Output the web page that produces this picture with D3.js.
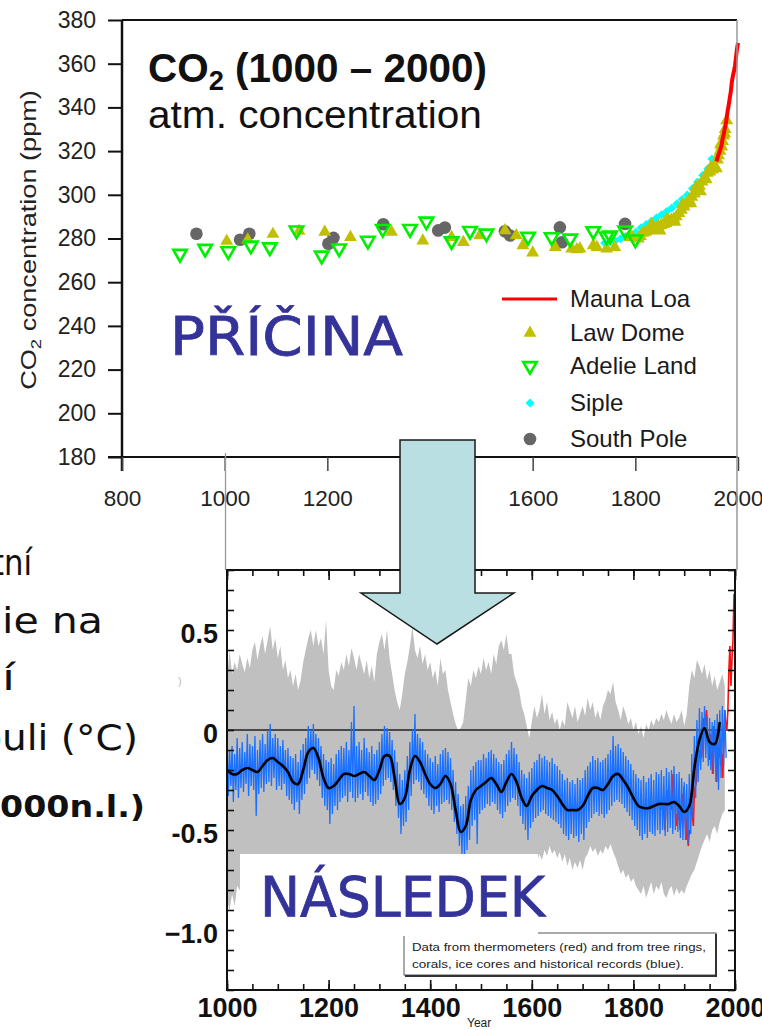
<!DOCTYPE html>
<html><head><meta charset="utf-8">
<script src="https://cdn.jsdelivr.net/npm/d3@7"></script>
<style>html,body{margin:0;padding:0;background:#fff;} svg{display:block;}</style>
</head><body>
<svg id="chart" width="762" height="1030"></svg>
<script>
// ---------------- CO2 panel (1000 - 2000) ----------------
const co2TickValues = [180, 200, 220, 240, 260, 280, 300, 320, 340, 360, 380];
const co2YearTicks = [800, 1000, 1200, 1400, 1600, 1800, 2000];

const maunaLoaYears = [1958, 1960, 1962, 1964, 1966, 1968, 1970, 1972, 1974, 1976, 1978, 1980, 1982, 1984, 1986, 1988, 1990, 1992, 1994, 1996, 1998, 2000];
const maunaLoaPpm   = [315.3, 316.9, 318.4, 319.6, 321.1, 322.9, 325.7, 327.5, 330.2, 332.1, 335.4, 338.7, 341.1, 344.4, 347.2, 351.6, 354.4, 356.4, 358.9, 362.6, 366.7, 369.5];

const lawDomeYears = [1004, 1045, 1094, 1145, 1195, 1245, 1325, 1386, 1442, 1465, 1497, 1546, 1568, 1581, 1600, 1644, 1676, 1686, 1692, 1718, 1725, 1744, 1760, 1790, 1795, 1806,
  1810, 1815, 1820, 1825, 1830, 1832, 1835, 1840, 1845, 1848, 1850, 1855, 1860, 1862, 1865, 1870, 1875, 1877, 1880, 1885, 1890, 1892, 1895, 1900, 1905, 1908, 1910, 1915, 1918,
  1920, 1925, 1927, 1930, 1935, 1938, 1940, 1945, 1947, 1950, 1955, 1958, 1960, 1962, 1965, 1966, 1968, 1970, 1972, 1974, 1975, 1978];
const lawDomePpm = [278.8, 279.4, 282.0, 283.4, 283.0, 280.6, 283.0, 279.0, 280.6, 278.3, 281.4, 283.7, 281.4, 276.8, 273.5, 276.0, 275.3, 275.0, 275.3, 276.8, 276.0, 275.3, 276.0, 280.6, 280.5, 279.9,
  281.0, 282.5, 283.0, 283.5, 284.0, 286.5, 284.0, 285.0, 285.5, 283.5, 286.0, 286.5, 287.0, 289.0, 288.0, 288.5, 289.0, 287.5, 290.0, 291.5, 293.0, 295.5, 294.5, 296.0, 297.5, 296.0, 299.0, 300.5, 303.5,
  302.0, 304.0, 301.5, 306.0, 308.0, 307.0, 310.0, 310.5, 312.5, 311.5, 313.0, 312.0, 316.0, 318.0, 320.0, 323.0, 322.0, 324.5, 327.0, 328.0, 330.0, 334.0];

const adelieYears = [913, 962, 1007, 1051, 1088, 1140, 1189, 1223, 1279, 1308, 1361, 1393, 1442, 1478, 1510, 1591, 1637, 1673, 1718, 1744, 1751, 1780, 1800];
const adeliePpm   = [273.0, 275.3, 274.2, 276.8, 276.0, 283.7, 272.2, 275.5, 279.0, 284.4, 284.4, 287.8, 278.8, 283.5, 282.3, 280.8, 280.6, 280.0, 283.4, 281.0, 281.4, 283.7, 279.6];

const sipleYears = [1744, 1755, 1765, 1775, 1785, 1795, 1805, 1815, 1825, 1835, 1845, 1855, 1865, 1875, 1885, 1895, 1905, 1915, 1925, 1935, 1945, 1953];
const siplePpm   = [277.0, 277.5, 278.0, 279.0, 280.0, 281.0, 282.0, 284.0, 285.5, 287.0, 288.5, 290.0, 291.5, 293.0, 295.0, 297.0, 299.0, 302.0, 305.0, 308.0, 311.0, 315.5];

const southPoleYears = [945, 1030, 1048, 1202, 1212, 1309, 1416, 1429, 1546, 1556, 1653, 1657, 1780];
const southPolePpm   = [282.2, 279.4, 282.2, 277.6, 280.3, 286.5, 283.7, 285.0, 283.3, 281.4, 285.1, 278.3, 286.7];

const legendLabels = ["Mauna Loa", "Law Dome", "Adelie Land", "Siple", "South Pole"];

// ---------------- Temperature panel (1000 - 2000) ----------------
const tempTickValues = [-1.0, -0.5, 0, 0.5];
const tempTickLabels = ["\u22121.0", "-0.5", "0", "0.5"];
const tempYearTicks = [1000, 1200, 1400, 1600, 1800, 2000];

// 5-year steps 1000..1980: uncertainty band edges and the range of the reconstruction
const bandUpper = [
  0.25, 0.40, 0.28, 0.34, 0.30, 0.38, 0.33, 0.29, 0.36, 0.31,
  0.40, 0.44, 0.35, 0.42, 0.47, 0.38, 0.45, 0.52, 0.40, 0.46,
  0.36, 0.42, 0.30, 0.35, 0.26, 0.30, 0.22, 0.28, 0.20, 0.25,
  0.34, 0.40, 0.46, 0.50, 0.42, 0.50, 0.42, 0.46, 0.38, 0.55,
  0.30, 0.22, 0.20, 0.30, 0.27, 0.34, 0.30, 0.38, 0.32, 0.41,
  0.36, 0.30, 0.38, 0.33, 0.28, 0.35, 0.26, 0.32, 0.24, 0.38,
  0.44, 0.48, 0.40, 0.50, 0.36, 0.28, 0.20, 0.14, 0.10, 0.18,
  0.28, 0.34, 0.42, 0.52, 0.40, 0.36, 0.42, 0.33, 0.38, 0.30,
  0.34, 0.26, 0.30, 0.22, 0.36, 0.28, 0.30, 0.20, 0.14, 0.08,
  0.03, 0.00, 0.01, 0.04, 0.15, 0.26, 0.22, 0.30, 0.26, 0.32,
  0.28, 0.36, 0.30, 0.34, 0.28, 0.38, 0.33, 0.42, 0.45, 0.40,
  0.48, 0.38, 0.38, 0.28, 0.24, 0.20, 0.12, 0.08, 0.02, -0.04,
  0.04, 0.12, 0.06, 0.10, 0.18, 0.08, 0.14, 0.05, 0.09, 0.03,
  0.06, 0.00, 0.05, 0.02, 0.14, 0.10, 0.06, 0.12, 0.04, 0.08,
  0.12, 0.07, 0.16, 0.10, 0.14, 0.06, 0.10, 0.05, 0.12, 0.15,
  0.20, 0.18, 0.24, 0.14, 0.10, 0.05, 0.12, 0.08, 0.03, 0.06,
  0.00, 0.04, -0.02, 0.02, -0.04, 0.03, 0.00, 0.05, 0.02, 0.06,
  0.04, 0.08, 0.05, 0.10, 0.06, 0.03, 0.08, 0.04, 0.06, 0.10,
  0.02, 0.08, 0.22, 0.30, 0.26, 0.35, 0.32, 0.28, 0.33, 0.25,
  0.30, 0.22, 0.27, 0.20, 0.24, 0.28, 0.22];
const bandLower = [
  -0.85, -0.90, -0.82, -0.88, -0.78, -0.80, -0.84, -0.79, -0.83, -0.78,
  -0.80, -0.86, -0.81, -0.78, -0.76, -0.74, -0.72, -0.75, -0.73, -0.76,
  -0.78, -0.80, -0.82, -0.85, -0.86, -0.88, -0.90, -0.88, -0.86, -0.82,
  -0.78, -0.74, -0.70, -0.70, -0.72, -0.74, -0.78, -0.82, -0.86, -0.88,
  -0.88, -0.86, -0.84, -0.82, -0.80, -0.80, -0.78, -0.80, -0.79, -0.80,
  -0.82, -0.80, -0.79, -0.80, -0.81, -0.82, -0.83, -0.84, -0.84, -0.82,
  -0.78, -0.74, -0.72, -0.72, -0.74, -0.78, -0.84, -0.90, -0.92, -0.90,
  -0.86, -0.80, -0.74, -0.72, -0.70, -0.72, -0.75, -0.78, -0.80, -0.82,
  -0.84, -0.84, -0.85, -0.84, -0.82, -0.80, -0.79, -0.80, -0.84, -0.90,
  -0.96, -1.00, -1.02, -1.00, -0.96, -0.90, -0.84, -0.80, -0.78, -0.76,
  -0.76, -0.75, -0.74, -0.73, -0.72, -0.74, -0.76, -0.78, -0.80, -0.78,
  -0.76, -0.74, -0.72, -0.73, -0.75, -0.78, -0.80, -0.82, -0.82, -0.78,
  -0.74, -0.70, -0.66, -0.62, -0.65, -0.60, -0.63, -0.58, -0.62, -0.60,
  -0.64, -0.61, -0.66, -0.62, -0.68, -0.64, -0.70, -0.66, -0.69, -0.65,
  -0.70, -0.64, -0.62, -0.58, -0.61, -0.59, -0.63, -0.60, -0.62, -0.58,
  -0.60, -0.57, -0.61, -0.64, -0.68, -0.72, -0.70, -0.74, -0.72, -0.76,
  -0.74, -0.78, -0.80, -0.82, -0.78, -0.84, -0.80, -0.76, -0.82, -0.78,
  -0.80, -0.76, -0.82, -0.84, -0.80, -0.78, -0.83, -0.79, -0.82, -0.80,
  -0.82, -0.78, -0.75, -0.72, -0.70, -0.66, -0.62, -0.58, -0.55, -0.52,
  -0.56, -0.50, -0.48, -0.52, -0.46, -0.42, -0.40];
const proxyHigh = [
  -0.05, -0.10, -0.08, -0.12, -0.04, -0.09, -0.06, -0.11, -0.02, -0.07,
  -0.08, -0.03, -0.10, -0.05, -0.02, -0.07, 0.00, 0.03, -0.04, -0.02,
  -0.04, -0.08, -0.05, -0.10, -0.09, -0.13, -0.14, -0.12, -0.16, -0.10,
  -0.07, -0.04, 0.02, 0.00, 0.03, -0.02, -0.04, -0.08, -0.12, -0.15,
  -0.16, -0.14, -0.17, -0.12, -0.10, -0.08, -0.09, -0.06, -0.10, 0.04,
  0.12, -0.08, -0.06, -0.10, -0.04, -0.09, -0.11, -0.08, -0.12, -0.10,
  -0.06, -0.02, 0.02, 0.01, -0.01, -0.05, -0.10, -0.16, -0.22, -0.25,
  -0.20, -0.13, -0.06, 0.00, 0.08, -0.02, -0.04, -0.06, -0.10, -0.12,
  -0.14, -0.16, -0.13, -0.17, -0.12, -0.10, -0.09, -0.11, -0.14, -0.20,
  -0.26, -0.32, -0.38, -0.37, -0.33, -0.28, -0.20, -0.18, -0.16, -0.15,
  -0.15, -0.12, -0.14, -0.11, -0.10, -0.12, -0.14, -0.16, -0.17, -0.15,
  -0.12, -0.10, -0.06, -0.09, -0.12, -0.16, -0.20, -0.22, -0.24, -0.21,
  -0.19, -0.16, -0.15, -0.12, -0.14, -0.13, -0.15, -0.16, -0.14, -0.17,
  -0.18, -0.20, -0.22, -0.25, -0.24, -0.26, -0.25, -0.27, -0.24, -0.25,
  -0.24, -0.20, -0.18, -0.16, -0.13, -0.15, -0.14, -0.16, -0.15, -0.14,
  -0.12, -0.10, -0.03, -0.08, -0.07, -0.09, -0.11, -0.13, -0.15, -0.17,
  -0.20, -0.22, -0.24, -0.25, -0.23, -0.26, -0.24, -0.22, -0.25, -0.21,
  -0.22, -0.20, -0.23, -0.19, -0.21, -0.20, -0.18, -0.22, -0.21, -0.24,
  -0.26, -0.27, -0.22, -0.12, -0.03, 0.05, 0.11, 0.09, 0.12, 0.07,
  0.06, 0.04, 0.05, 0.08, 0.10, 0.12, 0.10];
const proxyLow = [
  -0.33, -0.28, -0.36, -0.30, -0.34, -0.29, -0.31, -0.27, -0.33, -0.28,
  -0.30, -0.43, -0.32, -0.29, -0.31, -0.27, -0.26, -0.28, -0.24, -0.30,
  -0.28, -0.30, -0.27, -0.33, -0.35, -0.37, -0.40, -0.36, -0.42, -0.35,
  -0.32, -0.27, -0.24, -0.20, -0.22, -0.25, -0.28, -0.34, -0.38, -0.40,
  -0.47, -0.42, -0.38, -0.40, -0.36, -0.34, -0.33, -0.36, -0.31, -0.34,
  -0.36, -0.34, -0.32, -0.35, -0.31, -0.33, -0.36, -0.38, -0.37, -0.35,
  -0.32, -0.28, -0.25, -0.24, -0.26, -0.30, -0.38, -0.44, -0.52, -0.48,
  -0.46, -0.40, -0.33, -0.27, -0.25, -0.26, -0.30, -0.32, -0.34, -0.38,
  -0.40, -0.42, -0.38, -0.41, -0.37, -0.36, -0.35, -0.37, -0.40, -0.46,
  -0.52, -0.58, -0.62, -0.64, -0.60, -0.55, -0.48, -0.45, -0.57, -0.42,
  -0.40, -0.39, -0.37, -0.38, -0.36, -0.37, -0.40, -0.42, -0.44, -0.41,
  -0.38, -0.36, -0.34, -0.35, -0.38, -0.43, -0.47, -0.50, -0.55, -0.49,
  -0.46, -0.44, -0.43, -0.41, -0.40, -0.42, -0.43, -0.44, -0.45, -0.46,
  -0.47, -0.49, -0.52, -0.53, -0.55, -0.52, -0.54, -0.53, -0.56, -0.52,
  -0.55, -0.49, -0.46, -0.44, -0.42, -0.41, -0.43, -0.42, -0.44, -0.42,
  -0.40, -0.38, -0.36, -0.35, -0.36, -0.37, -0.39, -0.41, -0.43, -0.45,
  -0.48, -0.50, -0.53, -0.55, -0.52, -0.54, -0.51, -0.52, -0.53, -0.50,
  -0.52, -0.50, -0.53, -0.51, -0.49, -0.52, -0.50, -0.51, -0.54, -0.55,
  -0.55, -0.57, -0.52, -0.44, -0.34, -0.26, -0.20, -0.16, -0.14, -0.18,
  -0.20, -0.22, -0.26, -0.30, -0.24, -0.18, -0.14];

// 10-year steps 1000..1970: smoothed reconstruction
const smoothTemp = [
  -0.20, -0.22, -0.22, -0.20, -0.19, -0.20, -0.21, -0.18, -0.15, -0.14,
  -0.16, -0.18, -0.21, -0.26, -0.27, -0.20, -0.11, -0.09, -0.14, -0.24,
  -0.29, -0.28, -0.25, -0.22, -0.22, -0.23, -0.22, -0.21, -0.23, -0.25,
  -0.20, -0.13, -0.13, -0.24, -0.37, -0.34, -0.20, -0.13, -0.16, -0.22,
  -0.27, -0.29, -0.27, -0.23, -0.27, -0.40, -0.51, -0.48, -0.35, -0.30,
  -0.28, -0.26, -0.24, -0.27, -0.31, -0.26, -0.22, -0.26, -0.34, -0.38,
  -0.33, -0.30, -0.28, -0.29, -0.30, -0.33, -0.37, -0.40, -0.40, -0.40,
  -0.38, -0.33, -0.29, -0.29, -0.30, -0.27, -0.23, -0.22, -0.25, -0.29,
  -0.34, -0.38, -0.39, -0.39, -0.38, -0.37, -0.37, -0.37, -0.36, -0.38,
  -0.41, -0.38, -0.19, -0.05, 0.01, -0.06, -0.07, 0.04];

// thermometer record, 2-year steps 1856..1998
const thermoTemp = [
  -0.40, -0.35, -0.42, -0.50, -0.38, -0.30, -0.36, -0.33, -0.38, -0.34,
  -0.40, -0.22, -0.33, -0.36, -0.48, -0.42, -0.45, -0.40, -0.50, -0.44,
  -0.32, -0.38, -0.28, -0.45, -0.55, -0.40, -0.58, -0.50, -0.52, -0.30,
  -0.42, -0.48, -0.30, -0.28, -0.26, -0.12, -0.18, -0.10, -0.12, -0.14,
  -0.08, 0.06, 0.02, 0.04, 0.10, -0.05, -0.06, -0.15, -0.02, -0.10,
  -0.22, 0.02, -0.02, 0.00, -0.26, -0.10, -0.14, -0.04, -0.18, -0.12,
  -0.24, -0.05, 0.10, 0.02, 0.00, 0.10, 0.30, 0.42, 0.22, 0.35,
  0.45, 0.68];

const bandYears = d3.range(1000, 1981, 5);
const smoothYears = d3.range(1000, 1971, 10);
const thermoYears = d3.range(1856, 1999, 2);

// ------------------------------------------------------------
const svg = d3.select("#chart");
const SANS = "'Liberation Sans', Arial, Helvetica, sans-serif";
const HAND = "'Comic Sans MS', 'DejaVu Sans', sans-serif";

function stretchAbout(sel, k) {
  const x = +sel.attr("x") || 0, y = +sel.attr("y") || 0;
  sel.attr("transform", `translate(${x},${y}) scale(${k},1) translate(${-x},${-y})`);
}
function fitWidth(sel, target) {
  stretchAbout(sel, target / sel.node().getComputedTextLength());
}

// ================= CO2 panel =================
const xC = d3.scaleLinear().domain([800, 2000]).range([122, 738]);
const yC = d3.scaleLinear().domain([180, 380]).range([457, 20]);
const co2G = svg.append("g");

// frame
co2G.append("line").attr("x1", 122).attr("x2", 737).attr("y1", yC(380)).attr("y2", yC(380))
  .attr("stroke", "#111").attr("stroke-width", 2);
co2G.append("line").attr("x1", 122).attr("x2", 122).attr("y1", yC(380)).attr("y2", 471)
  .attr("stroke", "#111").attr("stroke-width", 2.5);

const yAxisC = co2G.append("g").attr("transform", "translate(122,0)")
  .call(d3.axisLeft(yC).tickValues(co2TickValues).tickSize(14).tickSizeOuter(0).tickPadding(12));
yAxisC.select(".domain").remove();
yAxisC.selectAll(".tick line").attr("stroke", "#111").attr("stroke-width", 2);
yAxisC.selectAll(".tick text").attr("font-family", SANS).attr("font-size", 23).attr("fill", "#222");

const xAxisC = co2G.append("g").attr("transform", `translate(0,${yC(180)})`)
  .call(d3.axisBottom(xC).tickValues(co2YearTicks).tickSize(14).tickSizeOuter(0).tickPadding(19).tickFormat(d3.format("d")));
xAxisC.select(".domain").attr("stroke", "#111").attr("stroke-width", 2).attr("d", "M108,0H738");
xAxisC.selectAll(".tick line").attr("stroke", "#444").attr("stroke-width", 1.5);
xAxisC.selectAll(".tick text").attr("font-family", SANS).attr("font-size", 22.5).attr("fill", "#222");

// y-axis title
const yTitle = co2G.append("g").attr("transform", "translate(36,240) rotate(-90)")
  .append("text").attr("x", 0).attr("y", 0).attr("text-anchor", "middle")
  .attr("font-family", SANS).attr("font-size", 22).attr("fill", "#222");
yTitle.append("tspan").text("CO");
yTitle.append("tspan").attr("font-size", 15).attr("dy", 5).text("2");
yTitle.append("tspan").attr("dy", -5).text(" concentration (ppm)");
fitWidth(yTitle, 300);

// title
const title = co2G.append("text").attr("x", 148).attr("y", 82)
  .attr("font-family", SANS).attr("font-size", 40).attr("font-weight", "bold").attr("fill", "#111");
title.append("tspan").text("CO");
title.append("tspan").attr("font-size", 27).attr("dy", 8).text("2");
title.append("tspan").attr("dy", -8).text(" (1000 \u2013 2000)");
fitWidth(title, 339);
const subtitle = co2G.append("text").attr("x", 148).attr("y", 128)
  .attr("font-family", SANS).attr("font-size", 38).attr("fill", "#111").text("atm. concentration");
fitWidth(subtitle, 334);

// markers
const symTriUp = d3.symbol().type(d3.symbolTriangle).size(72);
const symTriDown = d3.symbol().type(d3.symbolTriangle).size(78);
const symCircle = d3.symbol().type(d3.symbolCircle).size(125);
const symDiamond = d3.symbol().type(d3.symbolSquare).size(40);

co2G.append("g").selectAll("path").data(southPoleYears).join("path")
  .attr("d", symCircle)
  .attr("transform", (d, i) => `translate(${xC(d)},${yC(southPolePpm[i])})`)
  .attr("fill", "#666");
co2G.append("g").selectAll("path").data(sipleYears).join("path")
  .attr("d", symDiamond)
  .attr("transform", (d, i) => `translate(${xC(d) - 2},${yC(siplePpm[i]) - 2}) rotate(45)`)
  .attr("fill", "#00ffff");
co2G.append("g").selectAll("path").data(lawDomeYears).join("path")
  .attr("d", symTriUp)
  .attr("transform", (d, i) => `translate(${xC(d)},${yC(lawDomePpm[i])})`)
  .attr("fill", "#c0c000");
co2G.append("g").selectAll("path").data(adelieYears).join("path")
  .attr("d", symTriDown)
  .attr("transform", (d, i) => `translate(${xC(d)},${yC(adeliePpm[i])}) rotate(180)`)
  .attr("fill", "none").attr("stroke", "#00ee00").attr("stroke-width", 2.6);
co2G.append("path")
  .datum(maunaLoaYears)
  .attr("d", d3.line().x(d => xC(d)).y((d, i) => yC(maunaLoaPpm[i])))
  .attr("fill", "none").attr("stroke", "#ff0000").attr("stroke-width", 4);

// legend
const legend = co2G.append("g").attr("font-family", SANS).attr("font-size", 24).attr("fill", "#1a1a1a");
const legendRows = [299, 333, 366, 403, 439];
legend.append("line").attr("x1", 502).attr("x2", 557).attr("y1", legendRows[0]).attr("y2", legendRows[0])
  .attr("stroke", "#ff0000").attr("stroke-width", 3);
legend.append("path").attr("d", symTriUp).attr("transform", `translate(530,${legendRows[1]})`).attr("fill", "#c0c000");
legend.append("path").attr("d", symTriDown).attr("transform", `translate(530,${legendRows[2]}) rotate(180)`)
  .attr("fill", "none").attr("stroke", "#00ee00").attr("stroke-width", 2.6);
legend.append("path").attr("d", symDiamond).attr("transform", `translate(530,${legendRows[3]}) rotate(45)`).attr("fill", "#00ffff");
legend.append("path").attr("d", symCircle).attr("transform", `translate(530,${legendRows[4]})`).attr("fill", "#666");
legend.selectAll("text").data(legendLabels).join("text")
  .attr("x", 570).attr("y", (d, i) => legendRows[i] + 8).text(d => d);

// ================= Temperature panel =================
const xT = d3.scaleLinear().domain([1000, 2000]).range([227, 735]);
const yT = d3.scaleLinear().domain([-1.3, 0.8]).range([990, 570]);
const tempG = svg.append("g");
tempG.append("clipPath").attr("id", "plotClip").append("rect")
  .attr("x", 227).attr("y", 570).attr("width", 508).attr("height", 420);
const plot = tempG.append("g").attr("clip-path", "url(#plotClip)");

plot.append("path").datum(bandYears)
  .attr("d", d3.area().x(d => xT(d)).y0((d, i) => yT(bandLower[i])).y1((d, i) => yT(bandUpper[i])))
  .attr("fill", "#c0c0c0");
plot.append("line").attr("x1", 227).attr("x2", 735).attr("y1", yT(0)).attr("y2", yT(0))
  .attr("stroke", "#222").attr("stroke-width", 1.5);
plot.append("path").datum(thermoYears)
  .attr("d", d3.line().x(d => xT(d)).y((d, i) => yT(thermoTemp[i])))
  .attr("fill", "none").attr("stroke", "#ff1010").attr("stroke-width", 1.6);
// proxy record: alternate between the high and the low value of each 5-year step
const proxyPts = [];
bandYears.forEach((yr, i) => { proxyPts.push([yr, proxyHigh[i]]); proxyPts.push([yr + 2.5, proxyLow[i]]); });
plot.append("path").datum(proxyPts)
  .attr("d", d3.line().x(d => xT(d[0])).y(d => yT(d[1])))
  .attr("fill", "none").attr("stroke", "#1a70ff").attr("stroke-width", 1.3);
plot.append("path").datum(smoothYears)
  .attr("d", d3.line().curve(d3.curveCatmullRom).x(d => xT(d)).y((d, i) => yT(smoothTemp[i])))
  .attr("fill", "none").attr("stroke", "#000").attr("stroke-width", 2.6);

// axes with inward ticks
const minorY = d3.range(-13, 9).map(v => v / 10);
const yearMinor = d3.range(1000, 2001, 50);
tempG.append("g").attr("transform", "translate(227,0)")
  .call(d3.axisRight(yT).tickValues(minorY).tickSize(7).tickSizeOuter(0).tickFormat(""));
tempG.append("g").attr("transform", "translate(735,0)")
  .call(d3.axisLeft(yT).tickValues(minorY).tickSize(7).tickSizeOuter(0).tickFormat(""));
tempG.append("g").attr("transform", "translate(0,570)")
  .call(d3.axisBottom(xT).tickValues(yearMinor).tickSize(6).tickSizeOuter(0).tickFormat(""));
tempG.append("g").attr("transform", "translate(0,570)")
  .call(d3.axisBottom(xT).tickValues(tempYearTicks).tickSize(10).tickSizeOuter(0).tickFormat(""));
tempG.append("g").attr("transform", "translate(0,990)")
  .call(d3.axisTop(xT).tickValues(yearMinor).tickSize(6).tickSizeOuter(0).tickFormat(""));
tempG.append("g").attr("transform", "translate(0,990)")
  .call(d3.axisTop(xT).tickValues(tempYearTicks).tickSize(10).tickSizeOuter(0).tickFormat(""));
tempG.selectAll(".domain").remove();
tempG.selectAll(".tick line").attr("stroke", "#111").attr("stroke-width", 1.6);
tempG.append("rect").attr("x", 227).attr("y", 570).attr("width", 508).attr("height", 420)
  .attr("fill", "none").attr("stroke", "#111").attr("stroke-width", 2);

// tick labels
const yLab = tempG.append("g").attr("transform", "translate(218,0)")
  .call(d3.axisLeft(yT).tickValues(tempTickValues).tickSize(0).tickPadding(0)
    .tickFormat((d, i) => tempTickLabels[i]));
yLab.select(".domain").remove();
yLab.selectAll(".tick text").attr("font-family", SANS).attr("font-size", 27).attr("font-weight", "bold")
  .attr("fill", "#111").attr("dy", "0.45em");
const xLab = tempG.append("g").attr("transform", "translate(0,998)")
  .call(d3.axisBottom(xT).tickValues(tempYearTicks).tickSize(0).tickPadding(0).tickFormat(d3.format("d")));
xLab.select(".domain").remove();
xLab.selectAll(".tick text").attr("font-family", SANS).attr("font-size", 27).attr("font-weight", "bold")
  .attr("fill", "#111").attr("dy", "0.72em");
tempG.append("text").attr("x", 467).attr("y", 1027).attr("font-family", SANS).attr("font-size", 12)
  .attr("fill", "#222").text("Year");

// picture edges
svg.append("line").attr("x1", 225.5).attr("x2", 225.5).attr("y1", 453).attr("y2", 570)
  .attr("stroke", "#999").attr("stroke-width", 1.3);
svg.append("line").attr("x1", 737).attr("x2", 737).attr("y1", 20).attr("y2", 570)
  .attr("stroke", "#999").attr("stroke-width", 1.5);

// note box
const note = svg.append("g");
note.append("rect").attr("x", 404).attr("y", 933).attr("width", 312).attr("height", 42)
  .attr("fill", "#fff").attr("stroke", "#555").attr("stroke-width", 1);
note.append("path").attr("d", "M716,934V976H405").attr("fill", "none").attr("stroke", "#333").attr("stroke-width", 2);
const n1 = note.append("text").attr("x", 412).attr("y", 951).attr("font-family", SANS).attr("font-size", 11.5)
  .attr("fill", "#222").text("Data from thermometers (red) and from tree rings,");
fitWidth(n1, 294);
const n2 = note.append("text").attr("x", 412).attr("y", 968).attr("font-family", SANS).attr("font-size", 11.5)
  .attr("fill", "#222").text("corals, ice cores and historical records (blue).");
fitWidth(n2, 272);

// caption boxes
svg.append("rect").attr("x", 240).attr("y", 854).attr("width", 298).attr("height", 82).attr("fill", "#fff");
const effect = svg.append("text").attr("x", 260).attr("y", 916).attr("font-family", HAND)
  .attr("font-size", 56).attr("fill", "#333399").attr("stroke", "#333399").attr("stroke-width", 0.8).text("NÁSLEDEK");
fitWidth(effect, 285);

// arrow from cause to effect
const arrowPts = [[400, 440], [475, 440], [475, 593], [514, 593], [437, 644], [361, 593], [400, 593]];
svg.append("path").attr("d", d3.line()(arrowPts) + "Z")
  .attr("fill", "#b9dfe2").attr("stroke", "#1a1a1a").attr("stroke-width", 1.5).attr("stroke-linejoin", "miter");

const cause = svg.append("text").attr("x", 170).attr("y", 355).attr("font-family", HAND)
  .attr("font-size", 54).attr("fill", "#333399").attr("stroke", "#333399").attr("stroke-width", 0.8).text("PŘÍČINA");
fitWidth(cause, 233);

// side caption, running off the left edge of the page;
// each line is stretched so that its closing letters keep their width
const sideLines = [
  { t: "Teplotní", x: 32, y: 575, s: 36, w: "normal", tail: 2, tailW: 28 },
  { t: "anomálie na", x: 103, y: 633, s: 36, w: "normal", tail: 5, tailW: 101 },
  { t: "severní", x: 15, y: 690, s: 36, w: "normal", tail: 1, tailW: 13 },
  { t: "polokouli (°C)", x: 138, y: 750, s: 36, w: "normal", tail: 8, tailW: 136 },
  { t: "(1000-2000n.l.)", x: 145, y: 817, s: 31, w: "bold", tail: 8, tailW: 145 }
];
const side = svg.append("g");
sideLines.forEach(d => {
  const t = side.append("text").attr("x", d.x).attr("y", d.y).attr("text-anchor", "end")
    .attr("font-family", HAND).attr("font-size", d.s).attr("font-weight", d.w)
    .attr("fill", "#111").text(d.t);
  const tailLen = t.node().getSubStringLength(d.t.length - d.tail, d.tail);
  stretchAbout(t, d.tailW / tailLen);
});
svg.append("text").attr("x", 178).attr("y", 685).attr("font-family", SANS).attr("font-size", 11)
  .attr("fill", "#bbb").text(")");
</script>
</body></html>
